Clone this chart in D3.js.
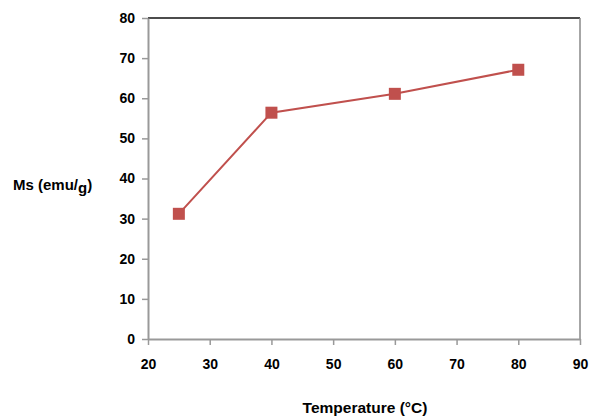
<!DOCTYPE html>
<html>
<head>
<meta charset="utf-8">
<script src="https://cdn.jsdelivr.net/npm/d3@7"></script>
<style>
  body { margin: 0; background: #fff; }
  text { font-family: "Liberation Sans", Arial, sans-serif; font-weight: bold; }
</style>
</head>
<body>
<svg id="chart" width="593" height="417"></svg>
<script>
// data
const temps = [25, 40, 60, 80];
const ms = [31.2, 56.4, 61.1, 67.1];
const xTicks = [20, 30, 40, 50, 60, 70, 80, 90];
const yTicks = [0, 10, 20, 30, 40, 50, 60, 70, 80];

const svg = d3.select('#chart');
const plotL = 148, plotR = 580, plotT = 18, plotB = 339;

const x = d3.scaleLinear().domain([20, 90]).range([plotL, plotR]);
const y = d3.scaleLinear().domain([0, 80]).range([plotB, plotT]);

// frame: top dark, right gray
svg.append('line').attr('x1', plotL).attr('x2', plotR).attr('y1', plotT).attr('y2', plotT)
  .attr('stroke', '#111').attr('stroke-width', 1.5);
svg.append('line').attr('x1', plotR).attr('x2', plotR).attr('y1', plotT).attr('y2', plotB)
  .attr('stroke', '#888').attr('stroke-width', 1.5);

const yAxis = svg.append('g').attr('transform', `translate(${plotL},0)`)
  .call(d3.axisLeft(y).tickValues(yTicks).tickSize(6).tickPadding(7).tickSizeOuter(0));
const xAxis = svg.append('g').attr('transform', `translate(0,${plotB})`)
  .call(d3.axisBottom(x).tickValues(xTicks).tickSize(6).tickPadding(14).tickSizeOuter(0));

[yAxis, xAxis].forEach(g => {
  g.select('.domain').attr('stroke', '#999').attr('stroke-width', 2);
  g.selectAll('.tick line').attr('stroke', '#999').attr('stroke-width', 1.5);
  g.selectAll('text').attr('fill', '#000').style('font-size', '14px')
    .style('font-family', '"Liberation Sans", Arial, sans-serif')
    .style('font-weight', 'bold');
});

// line + square markers
const line = d3.line().x((d, i) => x(temps[i])).y(d => y(d));
svg.append('path').datum(ms).attr('d', line)
  .attr('fill', 'none').attr('stroke', '#c0504d').attr('stroke-width', 2);

svg.selectAll('.pt').data(ms).enter().append('rect')
  .attr('class', 'pt')
  .attr('x', (d, i) => x(temps[i]) - 6)
  .attr('y', d => y(d) - 6)
  .attr('width', 12).attr('height', 12)
  .attr('fill', '#c0504d');

// axis titles
const yt = svg.append('text').attr('x', 13).attr('y', 190)
  .style('font-size', '15px').attr('fill', '#000');
yt.append('tspan').text('Ms (emu/');
yt.append('tspan').attr('dy', 3).text('g');
yt.append('tspan').attr('dy', -3).text(')');

svg.append('text').attr('x', 365).attr('y', 413).attr('text-anchor', 'middle')
  .style('font-size', '15.5px').attr('fill', '#000')
  .text('Temperature (°C)');
</script>
</body>
</html>
